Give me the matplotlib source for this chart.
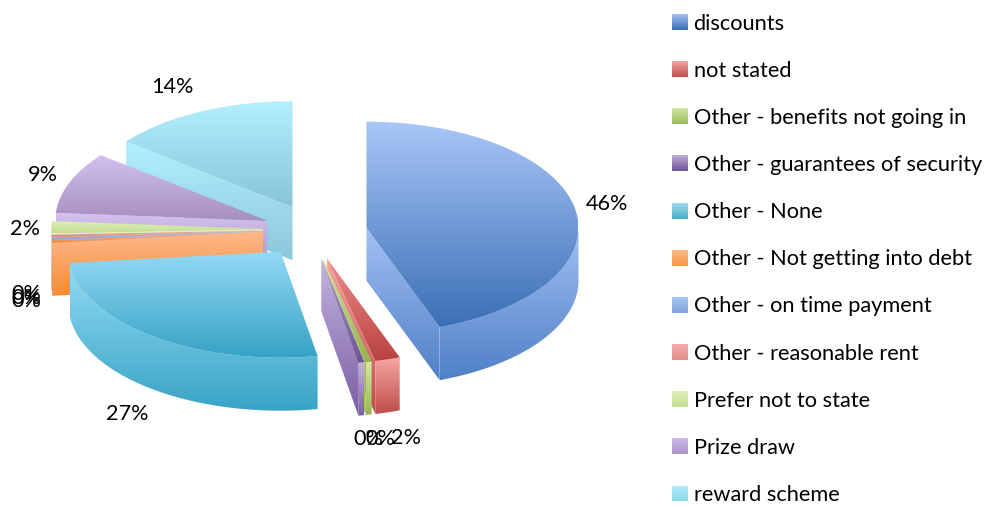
import numpy as np
import matplotlib
matplotlib.use("Agg")
import matplotlib.pyplot as plt
from matplotlib.path import Path
from matplotlib.patches import PathPatch
from matplotlib.colors import LinearSegmentedColormap

plt.rcParams['font.family'] = ['Lato', 'DejaVu Sans']

# ---- data ----
categories = ["discounts", "not stated", "Other - benefits not going in",
              "Other - guarantees of security", "Other - None",
              "Other - Not getting into debt", "Other - on time payment",
              "Other - reasonable rent", "Prefer not to state", "Prize draw",
              "reward scheme"]
values = [45.5, 1.9, 0.45, 0.45, 26.5, 0.35, 0.25, 0.35, 1.5, 8.5, 14.25]
labels = ["46%", "2%", "0%", "0%", "27%", "0%", "0%", "0%", "2%", "9%", "14%"]

# ---- style ----
top_light = ["#a9c6f7", "#ef8f8d", "#d3e6a2", "#ab9bd0", "#93d9f5", "#ffb98a",
             "#a5c3f2", "#f2a7a5", "#dff2b8", "#d4c1ee", "#b2f0ff"]
top_dark = ["#3b6fb6", "#b8413f", "#93b44f", "#6f5398", "#37a2c4", "#f08a3c",
            "#7ea1d8", "#dc8a88", "#c4dc92", "#a48fbf", "#87c4d8"]
side_light = ["#a3c0f4", "#f7a5a3", "#d6e8a8", "#c4b4e0", "#93dcf5", "#ffb98a",
              "#a5c3f2", "#f2a7a5", "#e2f3bc", "#d4c1ee", "#b2f0ff"]
side_dark = ["#4f80c6", "#bf4c4a", "#97b852", "#7a5ea3", "#38a3c4", "#f68c36",
             "#7ea1d8", "#dc8a88", "#c4dc92", "#a48fbf", "#8cc6da"]
swatch_light = ["#a3c0f0", "#f2a3a1", "#d5e8a6", "#bfaedb", "#9cdcf0", "#fdb885",
                "#a9c4f0", "#f4adab", "#dff0b5", "#cdbce6", "#aeeefc"]
swatch_dark = ["#3a6db5", "#c04f4d", "#9aba59", "#6f5398", "#4aacc6", "#f79646",
               "#7fa4dc", "#e08e8c", "#c6de94", "#a894c8", "#8ed8ec"]
paint_order = [10, 9, 8, 7, 6, 5, 0, 1, 2, 3, 4]

CX, CY = 315.0, 231.5      # pie centre in pixels
RX, RY = 212.0, 106.0      # top ellipse radii
EX, EY = 52.0, 27.0        # explosion distance
H = 53.0                   # pie thickness

label_pos = [(607, 204), (406, 438), (368, 439), (380, 439), (127, 414),
             (26, 294), (26, 298), (26, 301), (25, 229), (43, 175), (172, 87)]

fig = plt.figure(figsize=(9.87, 5.07), dpi=100)
ax = fig.add_axes([0, 0, 1, 1])
ax.set_axis_off()


def warp(theta):
    """Perspective compression of the projected angle (degrees)."""
    base = 4.0 * np.sin(np.radians(theta * 9 / 16)) * (theta < 320)
    return theta - base - 3.5 * np.exp(-((theta - 268.0) / 15.0) ** 2)


def gradient_poly(xs, ys, c0, c1, z):
    cmap = LinearSegmentedColormap.from_list("g", [c0, c1])
    grad = np.linspace(0, 1, 256).reshape(-1, 1)
    y0, y1 = min(ys), max(ys)
    x0, x1 = min(xs), max(xs)
    if x1 - x0 < 0.5 or y1 - y0 < 0.5:
        return
    im = ax.imshow(grad, cmap=cmap, extent=[x0, x1, y1, y0], aspect='auto',
                   zorder=z, interpolation='bilinear')
    verts = list(zip(xs, ys)) + [(xs[0], ys[0])]
    codes = [Path.MOVETO] + [Path.LINETO] * (len(xs) - 1) + [Path.CLOSEPOLY]
    patch = PathPatch(Path(verts, codes), transform=ax.transData,
                      fc='none', ec='none', zorder=z)
    ax.add_patch(patch)
    im.set_clip_path(patch)


vals = np.array(values, dtype=float)
cum = np.concatenate([[0], np.cumsum(vals)]) / vals.sum() * 360.0

z = 1
for i in paint_order:
    a0, a1 = cum[i], cum[i + 1]
    mid = np.radians((a0 + a1) / 2)
    ax0 = CX + EX * np.sin(mid)
    ay0 = CY - EY * np.cos(mid)
    phis = np.radians(warp(np.linspace(a0, a1, max(4, int(a1 - a0) * 2))))
    ax_ = ax0 + RX * np.sin(phis)
    ay_ = ay0 - RY * np.cos(phis)
    p0, p1 = np.degrees(phis[0]), np.degrees(phis[-1])

    # radial walls
    if 180 < p0 < 360:
        gradient_poly([ax0, ax_[0], ax_[0], ax0],
                      [ay0, ay_[0], ay_[0] + H, ay0 + H],
                      side_light[i], side_dark[i], z)
        z += 1
    if 0 < p1 < 180:
        gradient_poly([ax0, ax_[-1], ax_[-1], ax0],
                      [ay0, ay_[-1], ay_[-1] + H, ay0 + H],
                      side_light[i], side_dark[i], z)
        z += 1
    # outer wall (front half only)
    mask = (np.degrees(phis) >= 90) & (np.degrees(phis) <= 270)
    if mask.sum() >= 2:
        sx, sy = ax_[mask], ay_[mask]
        gradient_poly(list(sx) + list(sx[::-1]),
                      list(sy) + list((sy + H)[::-1]),
                      side_light[i], side_dark[i], z)
        z += 1
    # top face
    gradient_poly([ax0] + list(ax_), [ay0] + list(ay_),
                  top_light[i], top_dark[i], z)
    z += 1

for (x, y), s in zip(label_pos, labels):
    ax.text(x, y, s, fontsize=15.6, color="black", ha='center', va='center', zorder=100)

row_y = 22.0
row_step = 47.15
for i, name in enumerate(categories):
    y = row_y + i * row_step
    gradient_poly([672, 688, 688, 672], [y - 8, y - 8, y + 8, y + 8],
                  swatch_light[i], swatch_dark[i], 100)
    ax.text(693.5, y + 7.5, name, fontsize=15.7, color="black", ha='left', va='baseline', zorder=100)

ax.set_xlim(0, 987)
ax.set_ylim(507, 0)
fig.savefig("out.png", dpi=100, facecolor="white")
